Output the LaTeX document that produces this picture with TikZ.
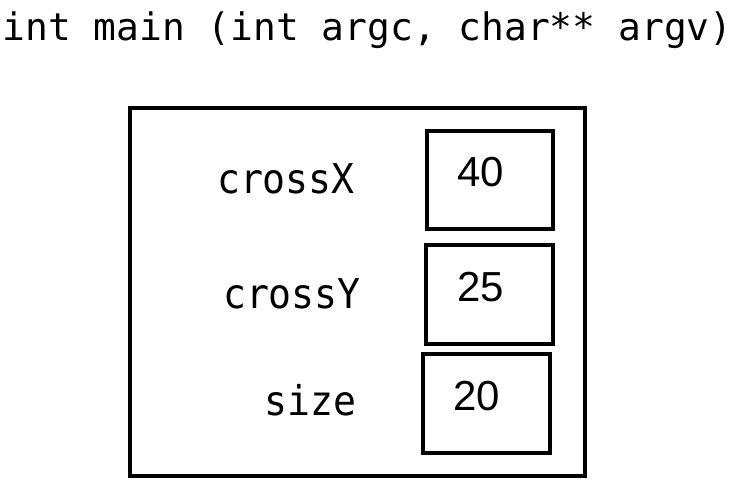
\documentclass[tikz,border=0pt]{standalone}
\usepackage{fontspec}
\setmainfont{Liberation Sans}
\newfontfamily\titlemono{DejaVu Sans Mono}
\newfontfamily\labelmono[FakeStretch=0.93]{DejaVu Sans Mono}
\begin{document}
\begin{tikzpicture}[x=1pt,y=-1pt,
  frame/.style={draw=black,line width=3.2pt},
  cell/.style={draw=black,line width=3.2pt},
  title/.style={font=\titlemono\fontsize{37.9}{42}\selectfont,anchor=base,inner sep=0pt},
  varname/.style={font=\labelmono\fontsize{41}{45}\selectfont,anchor=base east,inner sep=0pt},
  val/.style={font=\fontsize{42}{46}\selectfont,inner sep=0pt}]
\useasboundingbox (0,0) rectangle (734,479);
\node[title] (t) at (367.5,40) {int main (int argc, char** argv)};
\draw[frame] (130,108) rectangle (585,476);
\draw[cell] (427,131) rectangle (553,229);
\draw[cell] (426,245) rectangle (553,344);
\draw[cell] (423,354) rectangle (550,453);
\node[varname] (lx) at (355,193) {crossX};
\node[varname] (ly) at (361,308) {crossY};
\node[varname] (ls) at (357,415) {size};
\node[val] (vx) at (480.5,172.5) {40};
\node[val] (vy) at (481,287) {25};
\node[val] (vs) at (477,396) {20};
\end{tikzpicture}
\end{document}
